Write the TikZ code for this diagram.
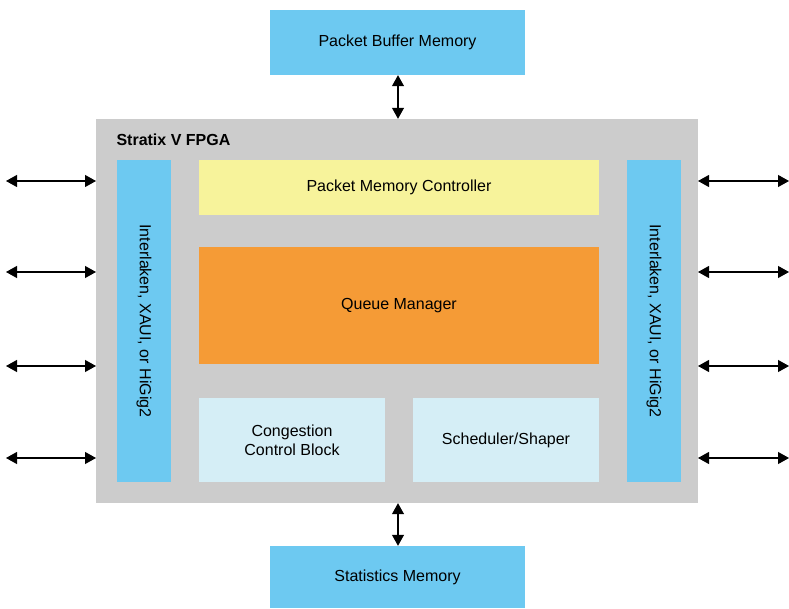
\documentclass[tikz,border=0pt]{standalone}
\usepackage{fontspec}
\setmainfont{Liberation Sans}
\usetikzlibrary{arrows.meta}
\definecolor{memblue}{HTML}{6DC9F1}
\definecolor{fpgagray}{HTML}{CCCCCC}
\definecolor{ctrlyellow}{HTML}{F7F39B}
\definecolor{qmorange}{HTML}{F59B36}
\definecolor{lightblue}{HTML}{D5EEF6}
\begin{document}
\begin{tikzpicture}[x=1pt,y=-1pt,
  blk/.style={draw=none,inner sep=0pt,font=\fontsize{16}{19}\selectfont,align=center},
  biarrow/.style={{Triangle[length=11pt,width=12pt]}-{Triangle[length=11pt,width=12pt]},line width=1.1pt}]
\useasboundingbox (0,0) rectangle (789,609);
% boxes
\node[blk,fill=memblue,minimum width=255pt,minimum height=65pt] (pbm) at (397.5,42.5) {Packet Buffer Memory};
\node[blk,fill=fpgagray,minimum width=602pt,minimum height=384pt] (fpga) at (397,311) {};
\node[anchor=west,font=\bfseries\fontsize{16}{19}\selectfont] (title) at (113,140) {Stratix V FPGA};
\node[blk,fill=memblue,minimum width=54pt,minimum height=322pt] (lif) at (144,321) {};
\node[rotate=-90,font=\fontsize{16}{19}\selectfont] (liftxt) at (144,321) {Interlaken, XAUI, or HiGig2};
\node[blk,fill=memblue,minimum width=54pt,minimum height=322pt] (rif) at (654,321) {};
\node[rotate=-90,font=\fontsize{16}{19}\selectfont] (riftxt) at (654,321) {Interlaken, XAUI, or HiGig2};
\node[blk,fill=ctrlyellow,minimum width=400pt,minimum height=55pt] (pmc) at (399,187.5) {Packet Memory Controller};
\node[blk,fill=qmorange,minimum width=400pt,minimum height=117pt] (qm) at (399,305.5) {Queue Manager};
\node[blk,fill=lightblue,minimum width=186pt,minimum height=84pt] (ccb) at (292,440) {Congestion\\Control Block};
\node[blk,fill=lightblue,minimum width=186pt,minimum height=84pt] (ss) at (506,440) {Scheduler/Shaper};
\node[blk,fill=memblue,minimum width=255pt,minimum height=62pt] (sm) at (397.5,577) {Statistics Memory};
% external coordinates
\foreach \i/\y in {1/181,2/272,3/366,4/458}{
  \coordinate (l\i) at (6,\y);
  \coordinate (lf\i) at (96,\y);
  \coordinate (r\i) at (789,\y);
  \coordinate (rf\i) at (698,\y);
  \draw[biarrow] (l\i) -- (lf\i);
  \draw[biarrow] (rf\i) -- (r\i);
}
\draw[biarrow] (pbm.south -| 398,0) -- (fpga.north -| 398,0);
\draw[biarrow] (fpga.south -| 398,0) -- (sm.north -| 398,0);
\end{tikzpicture}
\end{document}
